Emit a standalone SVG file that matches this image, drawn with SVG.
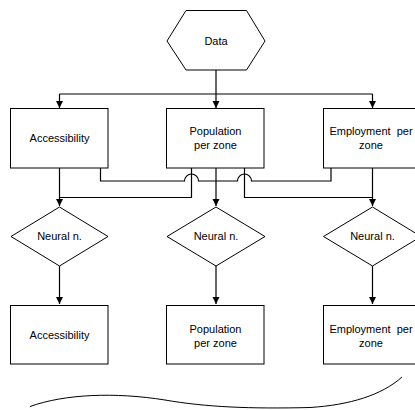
<svg xmlns="http://www.w3.org/2000/svg" width="415" height="410" viewBox="0 0 415 410">
<style>
.s{fill:#fff;stroke:#000;stroke-width:1}
.t{font-family:"Liberation Sans",Arial,sans-serif;font-size:11px;fill:#000;text-anchor:middle}
.c{fill:none;stroke:#000;stroke-width:1.2}
</style>
<defs>
<marker id="a" markerWidth="8" markerHeight="8" refX="7" refY="4" orient="auto" markerUnits="userSpaceOnUse">
<path d="M0,0.5 L7,4 L0,7.5 Z" fill="#000"/>
</marker>
</defs>
<rect width="415" height="410" fill="#fff"/>
<g id="connectors">
<path class="c" d="M216,70 V94"/>
<path class="c" d="M59.5,94 H372.5"/>
<path class="c" d="M59.5,94 V108" marker-end="url(#a)"/>
<path class="c" d="M216,94 V108" marker-end="url(#a)"/>
<path class="c" d="M372.5,94 V108" marker-end="url(#a)"/>
<path class="c" d="M100.5,168 V181 H184.5 A7,7 0 0 1 198.5,181 H237.5 A7,7 0 0 1 251.5,181 H331 V168"/>
<path class="c" d="M191.5,168 V197.5 H59.5"/>
<path class="c" d="M244.5,168 V197.5 H372.5"/>
<path class="c" d="M59.5,168 V206" marker-end="url(#a)"/>
<path class="c" d="M216,168 V206" marker-end="url(#a)"/>
<path class="c" d="M372.5,168 V206" marker-end="url(#a)"/>
<path class="c" d="M59.5,266 V304" marker-end="url(#a)"/>
<path class="c" d="M216,266 V304" marker-end="url(#a)"/>
<path class="c" d="M372.5,266 V304" marker-end="url(#a)"/>
</g>
<g id="data">
<polygon class="s" points="186,10.5 246.5,10.5 265,41 246.5,70 186,70 167,41"/>
<text class="t" x="216" y="45">Data</text>
</g>
<g id="acc1">
<rect class="s" x="10.5" y="108.5" width="97.5" height="59.5"/>
<text class="t" x="59.5" y="142">Accessibility</text>
</g>
<g id="pop1">
<rect class="s" x="166.5" y="108.5" width="97.5" height="59.5"/>
<text class="t" x="215.5" y="135">Population</text>
<text class="t" x="215.5" y="149">per zone</text>
</g>
<g id="emp1">
<rect class="s" x="323.5" y="108.5" width="97.5" height="59.5"/>
<text class="t" x="371" y="135" xml:space="preserve">Employment  per</text>
<text class="t" x="371" y="149">zone</text>
</g>
<g id="nn1">
<polygon class="s" points="59.5,207 108,236.5 59.5,266 11,236.5"/>
<text class="t" x="59.5" y="240">Neural n.</text>
</g>
<g id="nn2">
<polygon class="s" points="216,207 265,236.5 216,266 167,236.5"/>
<text class="t" x="216" y="240">Neural n.</text>
</g>
<g id="nn3">
<polygon class="s" points="372.5,207 421,236.5 372.5,266 323.5,236.5"/>
<text class="t" x="372.5" y="240">Neural n.</text>
</g>
<g id="acc2">
<rect class="s" x="10.5" y="305.5" width="97.5" height="58.5"/>
<text class="t" x="59.5" y="339">Accessibility</text>
</g>
<g id="pop2">
<rect class="s" x="166.5" y="305.5" width="97.5" height="58.5"/>
<text class="t" x="215.5" y="333">Population</text>
<text class="t" x="215.5" y="347">per zone</text>
</g>
<g id="emp2">
<rect class="s" x="323.5" y="305.5" width="97.5" height="58.5"/>
<text class="t" x="371" y="333" xml:space="preserve">Employment  per</text>
<text class="t" x="371" y="347">zone</text>
</g>
<path fill="none" stroke="#000" stroke-width="1" d="M30,406.5 C65,394 115,392 165,400 C205,407 250,409 310,407.5 C350,405 382,395 402,377"/>
</svg>
